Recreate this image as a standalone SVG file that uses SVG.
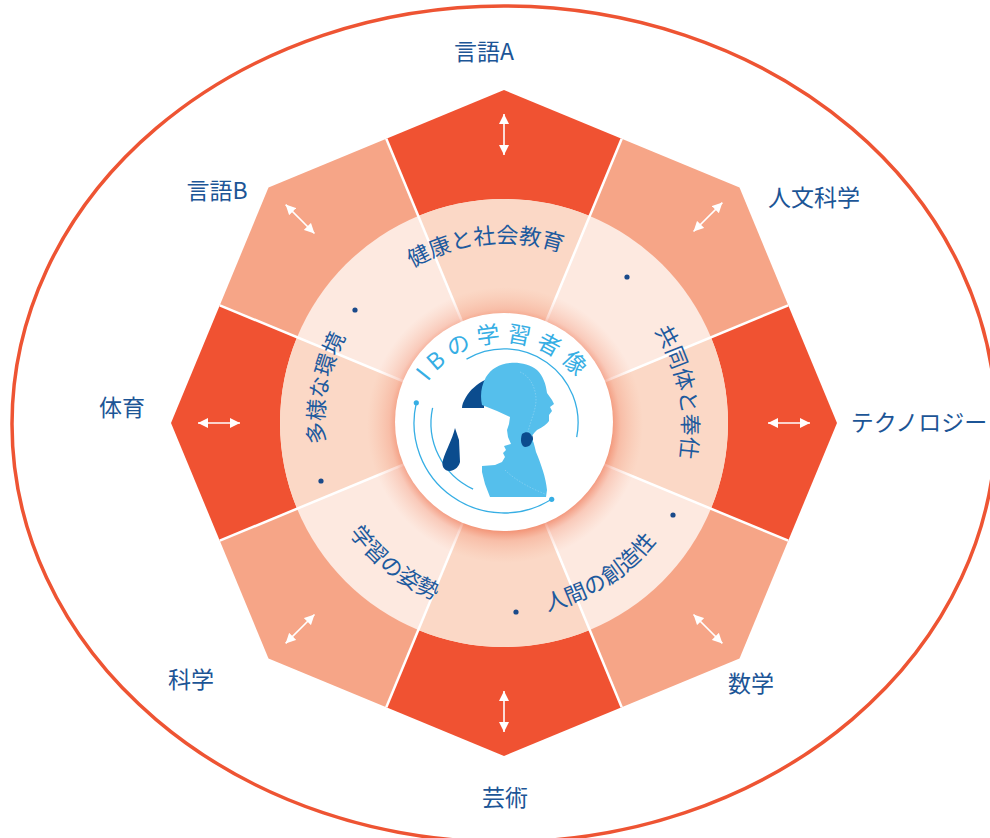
<svg xmlns="http://www.w3.org/2000/svg" width="990" height="838" viewBox="0 0 990 838">
  <defs>
    <style>
      .wedge-dark { fill: #F05232; }
      .wedge-light { fill: #F6A587; }
      .ring-light { fill: #FDE9E0; }
      .ring-dark { fill: #FBD8C6; }
      .divider { stroke: #FFFFFF; stroke-width: 2.5; }
      .label { font-family: "Noto Sans CJK JP", "Noto Sans", sans-serif; font-size: 23px; fill: #1C5596; text-anchor: middle; }
      .ring-text { font-family: "Noto Sans CJK JP", "Noto Sans", sans-serif; font-size: 22px; fill: #1D5A9E; }
      .title { font-family: "Noto Sans CJK JP", "Noto Sans", sans-serif; font-size: 23px; fill: #36AEE4; letter-spacing: 6px; }
      .dot { fill: #1A4A8A; }
      .arrow { stroke: #FFFFFF; stroke-width: 1.6; marker-start: url(#head); marker-end: url(#head); }
      .thin-arc { fill: none; stroke: #36AEE4; stroke-width: 1.3; }
    </style>
    <marker id="head" viewBox="0 0 10 10" refX="10" refY="5" markerWidth="10" markerHeight="10" markerUnits="userSpaceOnUse" orient="auto-start-reverse">
      <path d="M0,0 L10,5 L0,10 Z" fill="#FFFFFF"/>
    </marker>
    <radialGradient id="glow" gradientUnits="userSpaceOnUse" cx="505" cy="425" r="138">
      <stop offset="0.74" stop-color="#EE6A45" stop-opacity="0.8"/>
      <stop offset="0.84" stop-color="#F08060" stop-opacity="0.3"/>
      <stop offset="1" stop-color="#F4A080" stop-opacity="0"/>
    </radialGradient>
    <path id="p-health" d="M339.6,349.8 A180,180 0 0 1 649.6,317.2"/>
    <path id="p-community" d="M563.9,256.3 A183,183 0 0 1 624.1,561.1"/>
    <path id="p-diverse" d="M385.9,558.8 A180,180 0 0 1 445.4,252.8"/>
    <path id="p-learning" d="M315.8,396.6 A190,190 0 0 0 575.2,599.2"/>
    <path id="p-creativity" d="M415.2,594.3 A193,193 0 0 0 696.8,414.2"/>
    <path id="p-title" d="M413.4,418 A92,92 0 0 1 594.6,418"/>
  </defs>

  <rect width="990" height="838" fill="#FFFFFF"/>

  <!-- outer boundary -->
  <ellipse cx="504" cy="424" rx="492" ry="418" fill="none" stroke="#EE5433" stroke-width="3.5"/>

  <!-- subject wedges of the octagon -->
  <g id="subject-language-a"><polygon class="wedge-dark" points="504,423 386.3,138.8 504,90 621.7,138.8"/></g>
  <g id="subject-humanities"><polygon class="wedge-light" points="504,423 621.7,138.8 739.5,187.5 788.2,305.3"/></g>
  <g id="subject-technology"><polygon class="wedge-dark" points="504,423 788.2,305.3 837,423 788.2,540.7"/></g>
  <g id="subject-math"><polygon class="wedge-light" points="504,423 788.2,540.7 739.5,658.5 621.7,707.2"/></g>
  <g id="subject-arts"><polygon class="wedge-dark" points="504,423 621.7,707.2 504,756 386.3,707.2"/></g>
  <g id="subject-science"><polygon class="wedge-light" points="504,423 386.3,707.2 268.5,658.5 219.8,540.7"/></g>
  <g id="subject-pe"><polygon class="wedge-dark" points="504,423 219.8,540.7 171,423 219.8,305.3"/></g>
  <g id="subject-language-b"><polygon class="wedge-light" points="504,423 219.8,305.3 268.5,187.5 386.3,138.8"/></g>

  <!-- inner ring of approaches -->
  <g id="ring">
    <circle class="ring-light" cx="504" cy="423" r="224"/>
    <path class="ring-dark" d="M504,423 L418.3,216.1 A224,224 0 0 1 589.7,216.1 Z"/>
    <path class="ring-dark" d="M504,423 L710.9,337.3 A224,224 0 0 1 710.9,508.7 Z"/>
    <path class="ring-dark" d="M504,423 L589.7,629.9 A224,224 0 0 1 418.3,629.9 Z"/>
    <path class="ring-dark" d="M504,423 L297.1,508.7 A224,224 0 0 1 297.1,337.3 Z"/>
  </g>

  <!-- white dividers between segments -->
  <g id="dividers">
    <line class="divider" x1="504" y1="423" x2="621.7" y2="138.8"/>
    <line class="divider" x1="504" y1="423" x2="788.2" y2="305.3"/>
    <line class="divider" x1="504" y1="423" x2="788.2" y2="540.7"/>
    <line class="divider" x1="504" y1="423" x2="621.7" y2="707.2"/>
    <line class="divider" x1="504" y1="423" x2="386.3" y2="707.2"/>
    <line class="divider" x1="504" y1="423" x2="219.8" y2="540.7"/>
    <line class="divider" x1="504" y1="423" x2="219.8" y2="305.3"/>
    <line class="divider" x1="504" y1="423" x2="386.3" y2="138.8"/>
  </g>

  <!-- ring labels -->
  <g id="approach-health"><text class="ring-text"><textPath href="#p-health" startOffset="50%" text-anchor="middle">健康と社会教育</textPath></text></g>
  <g id="approach-community"><text class="ring-text"><textPath href="#p-community" startOffset="50%" text-anchor="middle">共同体と奉仕</textPath></text></g>
  <g id="approach-diverse"><text class="ring-text"><textPath href="#p-diverse" startOffset="50%" text-anchor="middle">多様な環境</textPath></text></g>
  <g id="approach-learning"><text class="ring-text"><textPath href="#p-learning" startOffset="50%" text-anchor="middle">学習の姿勢</textPath></text></g>
  <g id="approach-creativity"><text class="ring-text"><textPath href="#p-creativity" startOffset="50%" text-anchor="middle">人間の創造性</textPath></text></g>

  <g id="ring-dots">
    <circle class="dot" cx="355" cy="310" r="2.6"/>
    <circle class="dot" cx="627" cy="277" r="2.6"/>
    <circle class="dot" cx="321" cy="481" r="2.6"/>
    <circle class="dot" cx="673" cy="515" r="2.6"/>
    <circle class="dot" cx="516" cy="612" r="2.6"/>
  </g>

  <!-- centre: learner profile -->
  <g id="learner-profile">
    <circle cx="505" cy="425" r="138" fill="url(#glow)"/>
    <circle cx="504" cy="422" r="109" fill="#FFFFFF"/>
    <path class="thin-arc" d="M416.3,402.8 A90,90 0 0 0 551.7,499.3"/>
    <circle cx="416.3" cy="402.8" r="2.6" fill="#36AEE4"/>
    <circle cx="551.7" cy="499.3" r="2.6" fill="#36AEE4"/>
    <path class="thin-arc" d="M432.6,407.8 A73,73 0 0 0 473.1,489.2"/>
    <path class="thin-arc" d="M466.5,359.1 A74,74 0 0 1 576.7,437.1"/>
    <!-- dark hair behind the back figure -->
    <path fill="#0B4C8E" d="M485,380 C477,384 470,390 466,397 C463,402 462,405 462,408 L484,408 Z"/>
    <path fill="#0B4C8E" d="M523,434 C528,431 533,433 533,439 C533,444 529,447 524,447 C520,446 519,439 523,434 Z"/>
    <!-- back figure -->
    <path fill="#55BFEC" d="M510,363 C518,362 530,364 537,370 C543,376 546,384 547,393 L552,400 L554,404 L550,407 L552,411 L549,415 L549,421 C547,424 543,427 537,430 C534,433 531,436 530,440 C533,438 534,444 536,452 C541,464 546,478 547,490 L546,497 L490,497 L485,484 L482,472 L482,466 L495,465 L502,462 L505,457 L503,453 L506,450 L504,446 L511,444 L508,437 L507,430 L509,424 L510,417 L497,411 L482,405 C480,396 481,386 486,377 C491,369 499,364 510,363 Z"/>
    <path fill="#0B4C8E" d="M522,434 C526,431 531,432 532,437 C533,443 530,447 525,447 C521,446 520,440 522,434 Z"/>
    <!-- ponytail of the front figure -->
    <path fill="#0B4C8E" d="M455,428 C452,440 446,450 443,460 C441,466 444,471 450,471 C456,470 459,466 460,462 L459,440 Z"/>
    <path d="M520,372 C530,376 536,388 536,400 C536,410 530,422 528,432 M505,470 C515,480 530,488 545,494" fill="none" stroke="#8FD3F2" stroke-width="0.7" stroke-dasharray="1.5 1.5"/>
    <text class="title"><textPath href="#p-title" startOffset="50%" text-anchor="middle">IBの学習者像</textPath></text>
  </g>

  <!-- subject names -->
  <g id="subject-labels">
    <text class="label" x="484" y="60">言語A</text>
    <text class="label" x="217" y="199">言語B</text>
    <text class="label" x="814" y="206">人文科学</text>
    <text class="label" x="122" y="416">体育</text>
    <text class="label" x="919" y="431">テクノロジー</text>
    <text class="label" x="191" y="688">科学</text>
    <text class="label" x="751" y="692">数学</text>
    <text class="label" x="505" y="806">芸術</text>
  </g>

  <!-- double-headed arrows in each subject wedge -->
  <g id="connectors">
    <line class="arrow" x1="504" y1="114" x2="504" y2="155"/>
    <line class="arrow" x1="693.5" y1="231.5" x2="722.4" y2="202.6"/>
    <line class="arrow" x1="768" y1="423" x2="810" y2="423"/>
    <line class="arrow" x1="693.5" y1="614.5" x2="722.4" y2="643.4"/>
    <line class="arrow" x1="504" y1="691" x2="504" y2="732"/>
    <line class="arrow" x1="314.5" y1="614.5" x2="285.6" y2="643.4"/>
    <line class="arrow" x1="198" y1="423" x2="240" y2="423"/>
    <line class="arrow" x1="285.6" y1="204.6" x2="314.5" y2="233.5"/>
  </g>
</svg>
